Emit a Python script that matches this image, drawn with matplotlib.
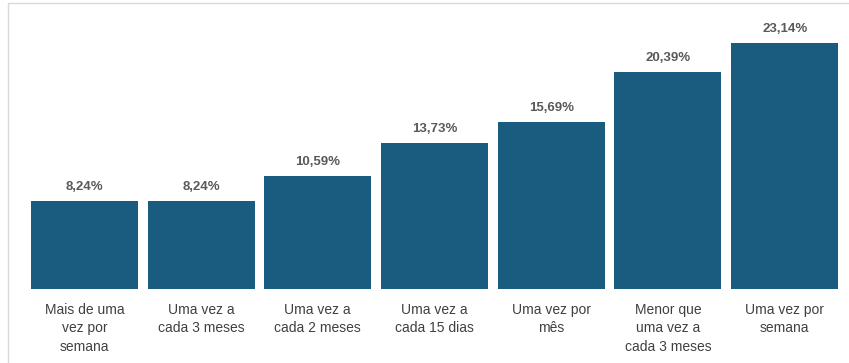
import matplotlib.pyplot as plt
from matplotlib.patches import Rectangle

# Frequência de uso
categorias = [
    "Mais de uma\nvez por\nsemana",
    "Uma vez a\ncada 3 meses",
    "Uma vez a\ncada 2 meses",
    "Uma vez a\ncada 15 dias",
    "Uma vez por\nmês",
    "Menor que\numa vez a\ncada 3 meses",
    "Uma vez por\nsemana",
]
percentuais = [8.24, 8.24, 10.59, 13.73, 15.69, 20.39, 23.14]

plt.rcParams['font.family'] = ['Liberation Sans', 'DejaVu Sans']

fig = plt.figure(figsize=(8.49, 3.63), dpi=100)
fig.patch.set_facecolor('white')

# Borda leve da área do gráfico
fig.patches.append(Rectangle((8 / 849, -0.05), 1.0, (363 - 3) / 363 + 0.05,
                             transform=fig.transFigure, fill=False,
                             edgecolor='#d9d9d9', linewidth=1.0))

ax = fig.add_axes([26 / 849, (363 - 289) / 363, (843 - 26) / 849, (289 - 10) / 363])

x = range(len(categorias))
barras = ax.bar(x, percentuais, width=0.917, color='#1a5c80')

for xi, v in zip(x, percentuais):
    ax.text(xi, v + 0.75, f"{v:.2f}%".replace('.', ','), ha='center', va='bottom',
            fontsize=9.5, fontweight='bold', color='#595959')

ax.set_xlim(-0.5, len(categorias) - 0.5)
ax.set_ylim(0, 26.25)
ax.set_xticks(list(x))
ax.set_xticklabels(categorias, fontsize=10, color='#404040', linespacing=1.4)
ax.tick_params(axis='x', length=0, pad=10)
ax.set_yticks([])
for s in ax.spines.values():
    s.set_visible(False)

fig.savefig('out.png', dpi=100)
